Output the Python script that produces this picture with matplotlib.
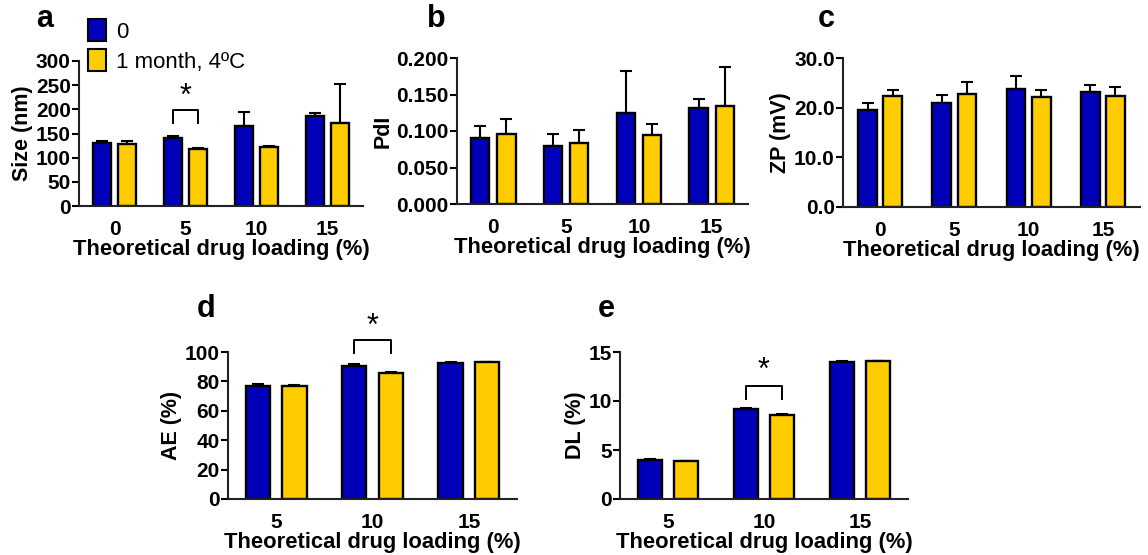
import numpy as np
import matplotlib
matplotlib.use('Agg')
import matplotlib.pyplot as plt
from matplotlib.patches import Patch

plt.rcParams['font.family'] = ['Liberation Sans', 'DejaVu Sans']
plt.rcParams['font.weight'] = 'bold'

# ---- data ----
loading4 = ['0', '5', '10', '15']
loading3 = ['5', '10', '15']
series = ['0', '1 month, 4ºC']

size_0 = [131, 141, 166, 187]
size_0_err = [3, 4, 28, 6]
size_1m = [128, 117, 122, 171]
size_1m_err = [6, 3, 2, 81]

pdi_0 = [0.091, 0.080, 0.124, 0.131]
pdi_0_err = [0.016, 0.016, 0.058, 0.013]
pdi_1m = [0.096, 0.084, 0.095, 0.134]
pdi_1m_err = [0.020, 0.017, 0.014, 0.054]

zp_0 = [19.6, 20.9, 23.8, 23.2]
zp_0_err = [1.4, 1.7, 2.6, 1.3]
zp_1m = [22.4, 22.7, 22.2, 22.3]
zp_1m_err = [1.2, 2.5, 1.4, 1.9]

ae_0 = [76.9, 90.8, 92.3]
ae_0_err = [1.5, 0.8, 0.9]
ae_1m = [77.0, 85.5, 93.2]
ae_1m_err = [0.8, 1.0, 0.0]

dl_0 = [3.94, 9.16, 13.98]
dl_0_err = [0.10, 0.10, 0.10]
dl_1m = [3.90, 8.62, 14.05]
dl_1m_err = [0.0, 0.10, 0.0]

blue = '#0000b8'
yellow = '#ffcc00'

W, H = 1148, 555
fig = plt.figure(figsize=(W / 100, H / 100), dpi=100)


def px_axes(left, top, right, bottom):
    return fig.add_axes([left / W, 1 - bottom / H, (right - left) / W, (bottom - top) / H])


def bar_panel(ax, cats, v0, e0, v1, e1, ylim, yticks, fmt, ylabel, off, width):
    x = np.arange(len(cats))
    for vals, errs, col, sgn in [(v0, e0, blue, -1), (v1, e1, yellow, 1)]:
        ax.bar(x + sgn * off, vals, width, color=col, edgecolor='black', linewidth=1.7, zorder=2)
        ax.errorbar(x + sgn * off, vals, yerr=[np.zeros(len(vals)), errs], fmt='none',
                    ecolor='black', elinewidth=1.5, capsize=4, capthick=1.5, zorder=1)
    ax.set_xlim(-0.5, len(cats) - 0.5)
    ax.set_ylim(*ylim)
    ax.set_yticks(yticks)
    ax.set_yticklabels([fmt.format(t) for t in yticks])
    ax.set_xticks(x)
    ax.set_xticklabels(cats)
    for s in ['top', 'right']:
        ax.spines[s].set_visible(False)
    for s in ['left', 'bottom']:
        ax.spines[s].set_linewidth(1.5)
        ax.spines[s].set_color('#222222')
    ax.tick_params(axis='y', length=5, width=1.5, labelsize=15, pad=1)
    ax.tick_params(axis='x', length=0, labelsize=15, pad=10)
    ax.set_xlabel('Theoretical drug loading (%)', fontsize=15.8, fontweight='bold', labelpad=0)
    ax.set_ylabel(ylabel, fontsize=15.5, fontweight='bold', labelpad=2)
    ax.patch.set_alpha(0)
    return x


def bracket(ax, i, off, ytop, yleg, ystar):
    ax.plot([i - off, i - off, i + off, i + off], [yleg, ytop, ytop, yleg],
            color='black', lw=1.4, clip_on=False)
    ax.text(i, ystar, '*', ha='center', va='center', fontsize=22, fontweight='normal')


ax_a = px_axes(79, 61, 363, 206)
bar_panel(ax_a, loading4, size_0, size_0_err, size_1m, size_1m_err,
          (0, 300), [0, 50, 100, 150, 200, 250, 300], '{:.0f}', 'Size (nm)', 0.18, 0.25)
bracket(ax_a, 1, 0.18, 199, 172, 226)

ax_b = px_axes(457, 58, 748, 204)
bar_panel(ax_b, loading4, pdi_0, pdi_0_err, pdi_1m, pdi_1m_err,
          (0, 0.2), [0, 0.05, 0.1, 0.15, 0.2], '{:.3f}', 'PdI', 0.18, 0.25)

ax_c = px_axes(843, 58, 1140, 207)
bar_panel(ax_c, loading4, zp_0, zp_0_err, zp_1m, zp_1m_err,
          (0, 30), [0, 10, 20, 30], '{:.1f}', 'ZP (mV)', 0.17, 0.25)

ax_d = px_axes(228, 352, 517, 499)
bar_panel(ax_d, loading3, ae_0, ae_0_err, ae_1m, ae_1m_err,
          (0, 100), [0, 20, 40, 60, 80, 100], '{:.0f}', 'AE (%)', 0.19, 0.25)
bracket(ax_d, 1, 0.19, 108.4, 99.3, 117)

ax_e = px_axes(620, 352, 908, 499)
bar_panel(ax_e, loading3, dl_0, dl_0_err, dl_1m, dl_1m_err,
          (0, 15), [0, 5, 10, 15], '{:.0f}', 'DL (%)', 0.19, 0.25)
bracket(ax_e, 1, 0.19, 11.54, 10.18, 13.1)

# panel letters
for lbl, px, py in [('a', 36, 27), ('b', 427, 27), ('c', 818, 27), ('d', 197, 317), ('e', 598, 317)]:
    fig.text(px / W, 1 - py / H, lbl, fontsize=22, fontweight='bold', ha='left', va='baseline')

handles = [Patch(facecolor=blue, edgecolor='black', linewidth=1.5),
           Patch(facecolor=yellow, edgecolor='black', linewidth=1.5)]
fig.legend(handles, series, loc='upper left', bbox_to_anchor=(88 / W, 1 - 19 / H),
           frameon=False, prop={'weight': 'normal', 'size': 16},
           handlelength=0.8, handleheight=1.15, handletextpad=0.45,
           labelspacing=0.3, borderpad=0, borderaxespad=0)

fig.savefig('out.png', dpi=100)
